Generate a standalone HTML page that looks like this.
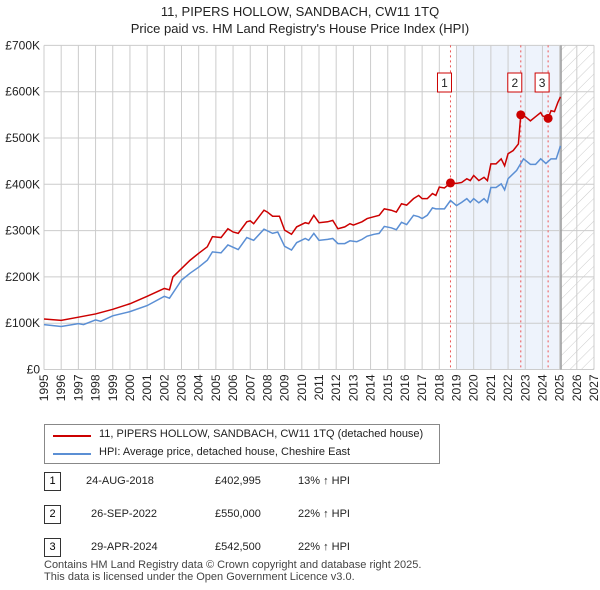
<!DOCTYPE html>
<html><head><meta charset="utf-8">
<style>
body{margin:0;background:#fff;font-family:"Liberation Sans","DejaVu Sans",sans-serif;}
#wrap{position:relative;width:600px;height:590px;overflow:hidden;}
.t{position:absolute;font-size:12px;color:#222;white-space:nowrap;}
</style></head>
<body>
<div id="wrap">
<svg id="chart" width="600" height="420" style="position:absolute;left:0;top:0">
<defs><pattern id="hatch" width="8" height="8" patternUnits="userSpaceOnUse" patternTransform="rotate(45)"><line x1="0" y1="0" x2="0" y2="8" stroke="#ccc" stroke-width="1"/></pattern></defs>
<text x="300" y="16" text-anchor="middle" font-size="13" fill="#222">11, PIPERS HOLLOW, SANDBACH, CW11 1TQ</text>
<text x="300" y="33" text-anchor="middle" font-size="13" fill="#222">Price paid vs. HM Land Registry's House Price Index (HPI)</text>
<g id="grid"></g><g id="marks"></g>
</svg>
<div style="position:absolute;left:44px;top:424px;width:396px;height:40px;border:1px solid #888;box-sizing:border-box">
 <div style="position:absolute;left:8px;top:10px;width:38px;height:2px;background:#cc0000"></div>
 <div class="t" style="left:54px;top:3px;font-size:11px">11, PIPERS HOLLOW, SANDBACH, CW11 1TQ (detached house)</div>
 <div style="position:absolute;left:8px;top:28px;width:38px;height:2px;background:#5b8fd4"></div>
 <div class="t" style="left:54px;top:21px;font-size:11px">HPI: Average price, detached house, Cheshire East</div>
</div>
<div id="table"></div>
<div class="t" style="left:44px;top:559px;font-size:11px;color:#444">Contains HM Land Registry data © Crown copyright and database right 2025.</div>
<div class="t" style="left:44px;top:571px;font-size:11px;color:#444">This data is licensed under the Open Government Licence v3.0.</div>
</div>
<script>
const priceT=[1995,1996,1997,1998,1999,2000,2001,2002,2002.3,2002.5,2003,2003.5,2004,2004.5,2004.8,2005.3,2005.7,2006,2006.3,2006.8,2007,2007.2,2007.8,2008,2008.3,2008.7,2009,2009.4,2009.7,2010.2,2010.4,2010.7,2011,2011.5,2011.8,2012.1,2012.5,2012.8,2013,2013.5,2013.8,2014.2,2014.5,2014.8,2015.2,2015.5,2015.8,2016.1,2016.5,2016.8,2017,2017.3,2017.6,2017.8,2018,2018.3,2018.65,2019,2019.3,2019.6,2019.8,2020,2020.3,2020.6,2020.8,2021,2021.3,2021.6,2021.8,2022,2022.3,2022.6,2022.74,2023,2023.3,2023.6,2023.9,2024,2024.33,2024.5,2024.7,2024.9,2025.05];
const priceV=[109,106,113,120,130,142,158,175,172,200,218,236,251,265,287,285,304,297,294,319,321,315,344,340,331,331,301,292,308,317,315,333,317,319,322,304,308,315,312,319,326,330,333,347,344,340,358,355,369,376,369,369,380,376,394,392,403,402,404,412,408,419,408,415,408,444,444,455,440,466,473,487,550,546,537,546,555,548,543,559,557,577,589];
const hpiT=[1995,1996,1997,1997.3,1998,1998.3,1999,2000,2001,2002,2002.3,2003,2003.5,2004,2004.5,2004.8,2005.3,2005.7,2006.3,2006.8,2007.2,2007.8,2008.3,2008.6,2009,2009.4,2009.7,2010.2,2010.4,2010.7,2011,2011.5,2011.8,2012.1,2012.5,2012.8,2013.2,2013.5,2013.8,2014.2,2014.5,2014.8,2015.2,2015.5,2015.8,2016.1,2016.5,2016.8,2017,2017.3,2017.6,2017.8,2018.3,2018.65,2019,2019.3,2019.6,2019.8,2020,2020.3,2020.6,2020.8,2021,2021.3,2021.6,2021.8,2022,2022.5,2022.9,2023.3,2023.6,2023.9,2024.2,2024.5,2024.8,2025.05];
const hpiV=[97,93,99,97,107,104,116,125,138,158,154,193,208,221,236,254,252,269,259,285,279,303,294,297,266,258,274,283,279,294,279,281,283,272,272,278,276,281,288,292,294,309,306,302,318,313,333,330,326,333,349,347,347,365,354,361,369,361,369,360,369,361,393,393,401,388,412,430,455,443,443,455,445,455,455,483];
const saleT=[2018.65,2022.74,2024.33];
const saleV=[402.995,550,542.5];
const saleLabels=["1","2","3"];
const saleDates=["24-AUG-2018","26-SEP-2022","29-APR-2024"];
const salePrices=["£402,995","£550,000","£542,500"];
const saleHpi=["13% ↑ HPI","22% ↑ HPI","22% ↑ HPI"];
const yTicks=[0,100,200,300,400,500,600,700];
const yTickLabels=["£0","£100K","£200K","£300K","£400K","£500K","£600K","£700K"];
const xTicks=[1995,1996,1997,1998,1999,2000,2001,2002,2003,2004,2005,2006,2007,2008,2009,2010,2011,2012,2013,2014,2015,2016,2017,2018,2019,2020,2021,2022,2023,2024,2025,2026,2027];

const L=44,R=594,T=45.4,B=369.5;
const x=t=>L+(t-1995)/32*(R-L);
const y=v=>B-v/700*(B-T);
const NS="http://www.w3.org/2000/svg";
const grid=document.getElementById('grid'),marks=document.getElementById('marks');
function mk(p,tag,a){const e=document.createElementNS(NS,tag);for(const k in a)e.setAttribute(k,a[k]);p.appendChild(e);return e;}
let e;
e=mk(grid,'rect',{x:x(2019),y:T,width:x(2025.08)-x(2019),height:B-T,fill:'#eef3fc'});


e=mk(grid,'rect',{x:x(2025.08),y:T,width:R-x(2025.08),height:B-T,fill:'url(#hatch)'});


yTicks.forEach((v,i)=>{
 e=mk(grid,'line',{x1:L,x2:R,y1:y(v),y2:y(v),stroke:'#ccc'});
 
 
 e=mk(grid,'text',{x:L-4,y:y(v)+4,'text-anchor':'end','font-size':12,fill:'#222'});
 e.textContent=yTickLabels[i];
 
 
});
xTicks.forEach(t=>{
 e=mk(grid,'line',{x1:x(t),x2:x(t),y1:T,y2:B,stroke:'#ccc'});
 
 
 e=mk(grid,'text',{x:0,y:0,'text-anchor':'end','font-size':12,fill:'#222',transform:`translate(${x(t)+4},${B+5}) rotate(-90)`});
 e.textContent=t;
 
 
});
e=mk(grid,'line',{x1:x(2025.08),x2:x(2025.08),y1:T,y2:B,stroke:'#999','stroke-width':1.5});


saleT.forEach((t,i)=>{
 e=mk(marks,'line',{x1:x(t),x2:x(t),y1:T,y2:B,stroke:'#e55','stroke-dasharray':'2,3'});
 
 
});
e=mk(marks,'polyline',{points:hpiT.map((t,i)=>x(t)+','+y(hpiV[i])).join(' '),fill:'none',stroke:'#5b8fd4','stroke-width':1.5});


e=mk(marks,'polyline',{points:priceT.map((t,i)=>x(t)+','+y(priceV[i])).join(' '),fill:'none',stroke:'#cc0000','stroke-width':1.5});


saleT.forEach((t,i)=>{
 e=mk(marks,'circle',{cx:x(t),cy:y(saleV[i]),r:4.5,fill:'#cc0000'});
 
 
 const bx=x(t)-(i==0?3:0)-7;
 e=mk(marks,'rect',{x:x(t)-13,y:73,width:14,height:19,fill:'#fff',stroke:'#cc0000'});
 
 
 e=mk(marks,'text',{x:x(t)-6,y:87,'text-anchor':'middle','font-size':12,fill:'#222'});
 e.textContent=saleLabels[i];
 
 
});
const tbl=document.getElementById('table');
const rowsY=[472,505,538];
saleLabels.forEach((s,i)=>{
 const r=document.createElement('div');
 
 
 r.innerHTML=`<div style="position:absolute;left:44px;top:${rowsY[i]}px;width:17px;height:19px;border:1px solid #333;box-sizing:border-box;font-size:11px;text-align:center;line-height:17px">${s}</div>
 <div class="t" style="left:${i==0?86:91}px;top:${rowsY[i]+3}px;font-size:11px">${saleDates[i]}</div>
 <div class="t" style="left:215px;top:${rowsY[i]+3}px;font-size:11px">${salePrices[i]}</div>
 <div class="t" style="left:298px;top:${rowsY[i]+3}px;font-size:11px">${saleHpi[i]}</div>`;
 tbl.appendChild(r);
});
</script>
</body></html>
